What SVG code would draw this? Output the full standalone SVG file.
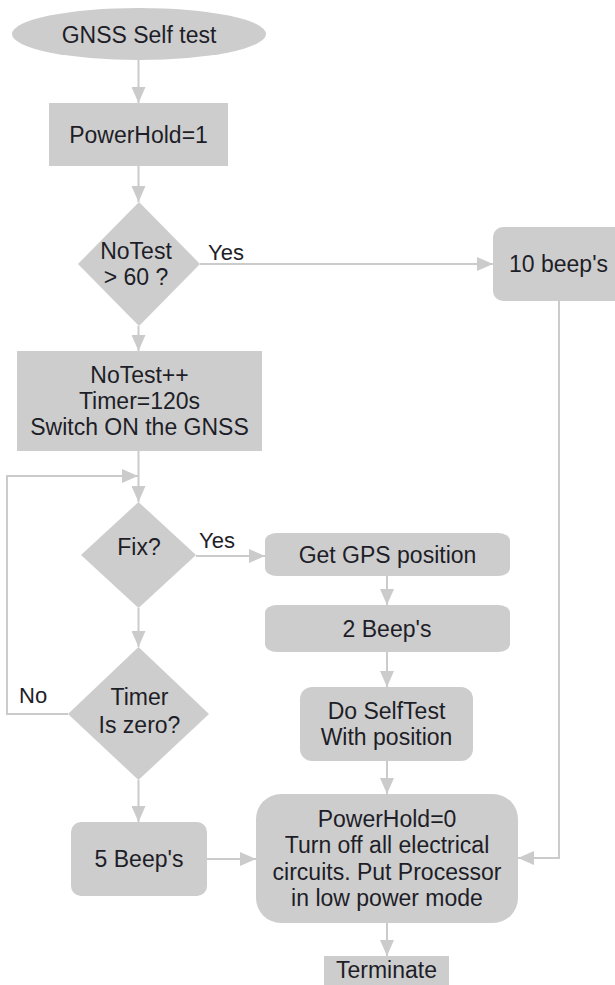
<svg xmlns="http://www.w3.org/2000/svg" width="615" height="985" viewBox="0 0 615 985">
<style>
.n{fill:#cdcdcd;stroke:none}
.t{font-family:"Liberation Sans",Arial,sans-serif;font-size:23px;fill:#1e1e28;text-anchor:middle}
.l{font-family:"Liberation Sans",Arial,sans-serif;font-size:22px;fill:#1e1e28}
.c{fill:none;stroke:#cbcbcb;stroke-width:2}
</style>
<defs>
<marker id="a" markerUnits="userSpaceOnUse" markerWidth="16" markerHeight="14" refX="16" refY="7" orient="auto">
<path d="M0,0 L16,7 L0,14 Z" fill="#cbcbcb"/>
</marker>
</defs>
<rect width="615" height="985" fill="#ffffff"/>
<g id="connectors">
<path class="c" d="M138.5,60 V103" marker-end="url(#a)"/>
<path class="c" d="M138.5,166 V202" marker-end="url(#a)"/>
<path class="c" d="M138.5,326 V351" marker-end="url(#a)"/>
<path class="c" d="M200,264 H493" marker-end="url(#a)"/>
<path class="c" d="M138.5,451 V502" marker-end="url(#a)"/>
<path class="c" d="M196,556 H265" marker-end="url(#a)"/>
<path class="c" d="M138.5,608 V647" marker-end="url(#a)"/>
<path class="c" d="M68,714 H7 V476 H138" marker-end="url(#a)"/>
<path class="c" d="M387,576 V605" marker-end="url(#a)"/>
<path class="c" d="M387,652 V687" marker-end="url(#a)"/>
<path class="c" d="M387,761 V794" marker-end="url(#a)"/>
<path class="c" d="M138.5,780 V822" marker-end="url(#a)"/>
<path class="c" d="M207,859 H256" marker-end="url(#a)"/>
<path class="c" d="M559,301 V858 H518" marker-end="url(#a)"/>
<path class="c" d="M387,923 V956" marker-end="url(#a)"/>
</g>
<g id="start">
<ellipse class="n" cx="139" cy="34" rx="127" ry="26"/>
<text class="t" x="139" y="43">GNSS Self test</text>
</g>
<g id="powerhold1">
<rect class="n" x="49" y="103" width="179" height="63"/>
<text class="t" x="138.5" y="143">PowerHold=1</text>
</g>
<g id="notest-check">
<polygon class="n" points="139,202 200,264 139,326 78,264"/>
<text class="t" x="136" y="259">NoTest</text>
<text class="t" x="136" y="285">&gt; 60 ?</text>
<text class="l" x="208" y="260">Yes</text>
</g>
<g id="beep10">
<rect class="n" x="493" y="227" width="140" height="74" rx="10" ry="10"/>
<text class="t" x="509" y="272" style="text-anchor:start">10 beep's</text>
</g>
<g id="init">
<rect class="n" x="17" y="351" width="245" height="100"/>
<text class="t" x="139.5" y="383">NoTest++</text>
<text class="t" x="139.5" y="409">Timer=120s</text>
<text class="t" x="139.5" y="435">Switch ON the GNSS</text>
</g>
<g id="fix">
<polygon class="n" points="138.5,502 196,555 138.5,608 81,555"/>
<text class="t" x="139" y="555">Fix?</text>
<text class="l" x="199" y="548">Yes</text>
</g>
<g id="getgps">
<rect class="n" x="265" y="533" width="245" height="43" rx="12" ry="8"/>
<text class="t" x="387.5" y="563">Get GPS position</text>
</g>
<g id="beep2">
<rect class="n" x="265" y="605" width="245" height="47" rx="12" ry="8"/>
<text class="t" x="387" y="637">2 Beep's</text>
</g>
<g id="selftest">
<rect class="n" x="300" y="687" width="173" height="74" rx="12" ry="12"/>
<text class="t" x="386.5" y="719">Do SelfTest</text>
<text class="t" x="386.5" y="745">With position</text>
</g>
<g id="timer">
<polygon class="n" points="138.5,647 209,714 138.5,780 68,714"/>
<text class="t" x="139.5" y="705">Timer</text>
<text class="t" x="139.5" y="733">Is zero?</text>
<text class="l" x="19" y="703">No</text>
</g>
<g id="beep5">
<rect class="n" x="71" y="822" width="136" height="74" rx="10" ry="10"/>
<text class="t" x="139" y="867">5 Beep's</text>
</g>
<g id="shutdown">
<rect class="n" x="256" y="794" width="262" height="129" rx="25" ry="25"/>
<text class="t" x="387" y="827">PowerHold=0</text>
<text class="t" x="387" y="853">Turn off all electrical</text>
<text class="t" x="387" y="880">circuits. Put Processor</text>
<text class="t" x="387" y="906">in low power mode</text>
</g>
<g id="terminate">
<rect class="n" x="324" y="956" width="125" height="35"/>
<text class="t" x="386.5" y="978">Terminate</text>
</g>
</svg>
